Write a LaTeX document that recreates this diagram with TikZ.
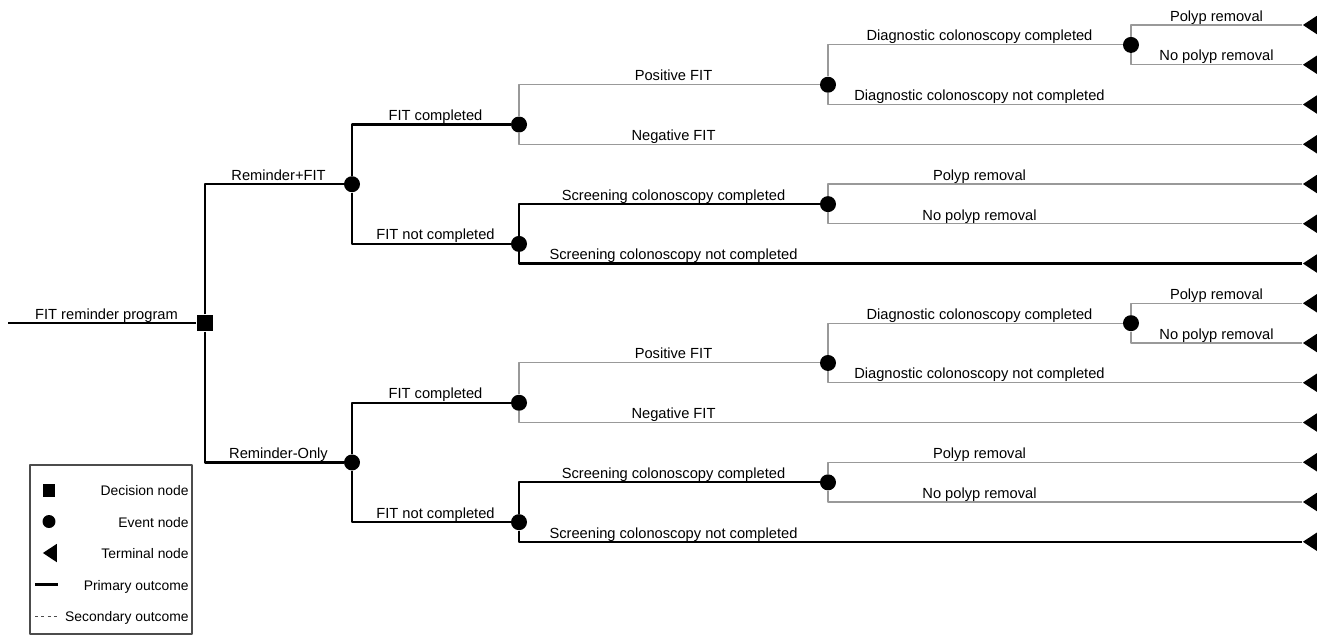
\documentclass[tikz,border=0pt]{standalone}
\usepackage{fontspec}
\setmainfont{Liberation Sans}
\usetikzlibrary{shapes.geometric}

\begin{document}
\begin{tikzpicture}[x=0.02cm, y=-0.02cm, line join=round,
		primary/.style={line width=1.25pt, black},
		secondary/.style={line width=0.6pt, black!40},
		event/.style={circle, fill, inner sep=0pt, minimum size=0.32cm},
		decision/.style={rectangle, fill, inner sep=0pt, minimum size=0.33cm},
		terminal/.style={isosceles triangle, isosceles triangle stretches, shape border rotate=180,
			fill, inner sep=0pt, minimum width=0.37cm, minimum height=0.28cm, anchor=apex},
		lbl/.style={anchor=base, inner sep=0pt, font=\fontsize{8.35}{9}\selectfont},
		key/.style={anchor=base east, inner sep=0pt, font=\fontsize{7.9}{9}\selectfont}]
		\useasboundingbox (0,0) rectangle (1329,637);
		
		% 1. NUT QUYET DINH
		\coordinate (start) at (8,323);
		\node[decision] (dec) at (205,323) {};
		\draw[primary] (start) -- (dec.west);
		\node[lbl] at (106.5,319) {FIT reminder program};
		
		% 2. HAI NHANH: Reminder+FIT, Reminder-Only
		\foreach \s/\dy/\side/\arm in {a/0/north/Reminder+FIT, b/278.25/south/Reminder-Only} {
			% nut su kien
			\node[event] (\s-arm) at (352,{184.2+\dy}) {};
			\node[event] (\s-fc)  at (519,{124.5+\dy}) {};
			\node[event] (\s-fn)  at (519,{243.9+\dy}) {};
			\node[event] (\s-pos) at (828,{84.7+\dy}) {};
			\node[event] (\s-sc)  at (828,{204.1+\dy}) {};
			\node[event] (\s-dxc) at (1131,{44.9+\dy}) {};
			% nut ket thuc
			\foreach \k in {0,...,6}
			\node[terminal] (\s-t\k) at (1302,{25+39.75*\k+\dy}) {};
			
			% net chinh (dam)
			\draw[primary] (dec.\side) |- (\s-arm.west);
			\draw[primary] (\s-arm.north) |- (\s-fc.west) (\s-arm.south) |- (\s-fn.west);
			\draw[primary] (\s-fn.north) |- (\s-sc.west) (\s-fn.south) |- (\s-t6.apex);
			
			% net phu (xam)
			\draw[secondary] (\s-fc.north) |- (\s-pos.west) (\s-fc.south) |- (\s-t3.apex);
			\draw[secondary] (\s-pos.north) |- (\s-dxc.west) (\s-pos.south) |- (\s-t2.apex);
			\draw[secondary] (\s-dxc.north) |- (\s-t0.apex) (\s-dxc.south) |- (\s-t1.apex);
			\draw[secondary] (\s-sc.north) |- (\s-t4.apex) (\s-sc.south) |- (\s-t5.apex);
			
			% nhan
			\node[lbl] at (278.5,{180.2+\dy}) {\arm};
			\foreach \lx/\ly/\lt in {435.5/124.5/FIT completed, 435.5/243.9/FIT not completed,
				673.5/84.7/Positive FIT, 673.5/144.4/Negative FIT,
				673.5/204.1/Screening colonoscopy completed, 673.5/263.8/Screening colonoscopy not completed,
				979.5/44.9/Diagnostic colonoscopy completed, 979.5/104.6/Diagnostic colonoscopy not completed,
				979.5/184.2/Polyp removal, 979.5/224/No polyp removal,
				1216.5/25/Polyp removal, 1216.5/64.8/No polyp removal}
			\node[lbl] at (\lx,{\ly-4+\dy}) {\lt};
		}
		
		% 3. CHU GIAI
		\draw[black!70, line width=0.6pt] (30,465) rectangle (192,634);
		\node[decision, minimum size=0.26cm] (kdec) at (49,490) {};
		\node[event, minimum size=0.26cm] (kev) at (49,521.5) {};
		\node[terminal] (kterm) at (42,553) {};
		\coordinate (kp1) at (35,584.5); \coordinate (kp2) at (58,584.5);
		\coordinate (ks1) at (35,616);   \coordinate (ks2) at (58,616);
		\draw[primary] (kp1) -- (kp2);
		\draw[line width=0.5pt, black!70, dash pattern=on 1.8pt off 1.8pt] (ks1) -- (ks2);
		\foreach \ky/\kt in {490/Decision node, 521.5/Event node, 553/Terminal node,
			584.5/Primary outcome, 616/Secondary outcome}
		\node[key] at (189,{\ky+5.5}) {\kt};
	\end{tikzpicture}
\end{document}
